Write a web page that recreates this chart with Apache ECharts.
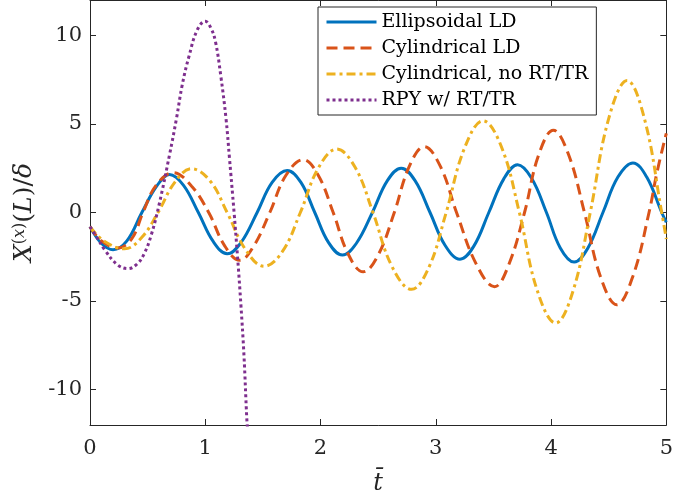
<!DOCTYPE html>
<html>
<head>
<meta charset="utf-8">
<script src="https://cdn.jsdelivr.net/npm/echarts@6/dist/echarts.min.js"></script>
<style>html,body{margin:0;padding:0;background:#fff;}#c{width:676px;height:501px;}</style>
</head>
<body>
<div id="c"></div>
<script>
// ---- data ----
const seriesNames = ['Ellipsoidal LD', 'Cylindrical LD', 'Cylindrical, no RT/TR', 'RPY w/ RT/TR'];
const xTicks = [0, 1, 2, 3, 4, 5];
const yTicks = [-10, -5, 0, 5, 10];

const ellipsoidalLD = [
  [0,-0.8],[0.1,-1.75],[0.2,-2.1],[0.32,-1.6],[0.45,0],[0.58,1.5],[0.69,2.15],[0.81,1.55],[0.94,0],
  [1.07,-1.65],[1.19,-2.33],[1.31,-1.7],[1.45,0],[1.58,1.7],[1.71,2.37],[1.83,1.7],[1.95,0],
  [2.07,-1.7],[2.19,-2.4],[2.31,-1.75],[2.45,0],[2.58,1.8],[2.70,2.5],[2.82,1.8],[2.95,0],
  [3.08,-1.85],[3.21,-2.64],[3.33,-1.9],[3.46,0],[3.59,1.9],[3.71,2.7],[3.83,1.95],[3.96,0],
  [4.08,-2.0],[4.20,-2.8],[4.32,-2.0],[4.45,0],[4.58,2.0],[4.71,2.8],[4.83,2.0],[4.96,0],[5,-0.55]
];
const cylindricalLD = [
  [0,-0.8],[0.1,-1.6],[0.24,-2.0],[0.36,-1.5],[0.46,0],[0.57,1.5],[0.72,2.25],[0.88,1.5],[1.03,0],
  [1.17,-1.9],[1.30,-2.7],[1.42,-1.9],[1.56,0],[1.70,2.1],[1.85,2.98],[1.98,2.1],[2.11,0],
  [2.24,-2.35],[2.37,-3.35],[2.50,-2.4],[2.64,0],[2.77,2.6],[2.90,3.72],[3.04,2.6],[3.18,0],
  [3.35,-2.9],[3.51,-4.19],[3.63,-3.0],[3.77,0],[3.89,3.2],[4.02,4.65],[4.15,3.3],[4.29,0],
  [4.43,-3.65],[4.57,-5.21],[4.71,-3.6],[4.85,0],[4.92,2.3],[5,4.47]
];
const cylindricalNoRT = [
  [0,-0.8],[0.12,-1.6],[0.3,-2.05],[0.45,-1.4],[0.59,0],[0.74,1.75],[0.88,2.47],[1.04,1.8],[1.19,0],
  [1.35,-2.1],[1.51,-3.04],[1.67,-2.2],[1.825,0],[1.98,2.5],[2.14,3.58],[2.30,2.55],[2.455,0],
  [2.62,-3.05],[2.79,-4.34],[2.94,-3.1],[3.09,0],[3.25,3.65],[3.41,5.18],[3.57,3.7],[3.725,0],
  [3.88,-4.4],[4.04,-6.24],[4.19,-4.45],[4.34,0],[4.50,5.3],[4.66,7.45],[4.81,5.3],[4.96,0],[5,-1.49]
];
const rpyRTTR = [
  [0,-0.8],[0.05,-1.3],[0.13,-2.13],[0.24,-2.96],[0.33,-3.17],[0.41,-2.9],[0.47,-2.33],[0.53,-1.3],
  [0.6,0.46],[0.69,3.26],[0.75,5.3],[0.80,7.2],[0.86,8.85],[0.93,10.3],[1.0,10.8],[1.05,10.4],
  [1.09,9.6],[1.135,7.7],[1.18,5.3],[1.21,3.07],[1.25,0],[1.28,-2.5],[1.31,-5.3],[1.336,-8.1],
  [1.36,-11.6],[1.37,-12.5]
];

const colors = ['#0072BD', '#D95319', '#EDB120', '#7E2F8E'];
const dashes = ['solid', [11, 6], [9, 4, 3, 4], [3, 3]];
const datasets = [ellipsoidalLD, cylindricalLD, cylindricalNoRT, rpyRTTR];

const FONT = 'DejaVu Serif';
const AX = '#262626';

const chart = echarts.init(document.getElementById('c'), null, {renderer: 'canvas'});

const xBase = {
  type: 'value', min: 0, max: 5, interval: 1,
  axisLine: {show: true, onZero: false, lineStyle: {color: AX, width: 1}},
  axisTick: {show: true, inside: true, length: 6, lineStyle: {color: AX}},
  splitLine: {show: false}
};
const yBase = {
  type: 'value', min: -12, max: 12,
  axisLine: {show: true, onZero: false, lineStyle: {color: AX, width: 1}},
  axisTick: {show: true, inside: true, length: 6, customValues: yTicks, lineStyle: {color: AX}},
  splitLine: {show: false}
};

chart.setOption({
  animation: false,
  backgroundColor: '#fff',
  grid: {left: 90, right: 6, top: 0, bottom: 71, containLabel: false},
  xAxis: [
    Object.assign({}, xBase, {
      position: 'bottom',
      axisLabel: {show: true, margin: 13, color: '#262626', fontFamily: FONT, fontSize: 21},
      name: 't\u0304', nameLocation: 'middle', nameGap: 47,
      nameTextStyle: {fontFamily: FONT, fontStyle: 'italic', fontSize: 24, color: '#262626'}
    }),
    Object.assign({}, xBase, {position: 'top', axisLabel: {show: false}})
  ],
  yAxis: [
    Object.assign({}, yBase, {
      position: 'left',
      axisLabel: {show: true, margin: 8, customValues: yTicks, color: '#262626', fontFamily: FONT, fontSize: 21},
      name: '{i|X}{s|(}{si|x}{s|)}{r|(}{i|L}{r|)/}{i|δ}',
      nameLocation: 'middle', nameGap: 50, nameRotate: 90,
      nameTextStyle: {
        color: '#262626', fontFamily: FONT, fontSize: 25,
        rich: {
          i: {fontFamily: FONT, fontStyle: 'italic', fontSize: 25, color: '#262626'},
          r: {fontFamily: FONT, fontSize: 25, color: '#262626'},
          s: {fontFamily: FONT, fontSize: 16, color: '#262626', verticalAlign: 'top', padding: [0, 0, 10, 0]},
          si: {fontFamily: FONT, fontStyle: 'italic', fontSize: 16, color: '#262626', verticalAlign: 'top', padding: [0, 0, 10, 0]}
        }
      }
    }),
    Object.assign({}, yBase, {position: 'right', axisLabel: {show: false}})
  ],
  legend: {
    show: true,
    left: 318, top: 7,
    orient: 'vertical',
    itemWidth: 50, itemHeight: 14, itemGap: 6,
    padding: [5, 8, 5, 7],
    backgroundColor: '#fff',
    borderColor: '#262626', borderWidth: 1, borderRadius: 0,
    itemStyle: {opacity: 0, borderWidth: 0},
    lineStyle: {width: 3},
    textStyle: {fontFamily: FONT, fontSize: 19, lineHeight: 20, color: '#000'},
    data: seriesNames
  },
  series: datasets.map((d, i) => ({
    name: seriesNames[i],
    type: 'line',
    data: d,
    smooth: 0.4,
    showSymbol: false, symbol: 'none',
    clip: true,
    lineStyle: {color: colors[i], width: 3, type: dashes[i], cap: 'butt'},
    itemStyle: {color: colors[i]},
    z: 2
  }))
});
</script>
</body>
</html>
